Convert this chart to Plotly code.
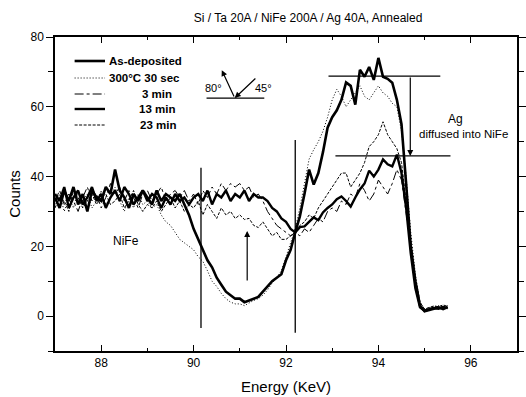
import plotly.graph_objects as go

# Energy grid (keV), 0.1 keV steps from 87.0 to 95.5
energy = [round(87.0 + 0.1 * i, 1) for i in range(86)]

as_deposited = [
    34, 31, 36, 33, 37, 32, 35, 30, 36, 34,
    33, 37, 35, 42, 36, 34, 31, 35, 33, 36,
    34, 32, 36, 33, 35, 34, 33, 35, 32, 29,
    25, 22, 19, 16, 14, 11, 9, 7, 6, 5,
    5, 4, 4.5, 5, 5.5, 7, 8.5, 10, 11, 12,
    16, 19, 24, 28.6, 35, 42, 37.7, 41, 47, 54,
    57, 59, 62, 67, 66, 60.6, 70.6, 68.6, 71.4, 67.7,
    74, 68.6, 68, 66.9, 62, 55, 38, 20, 10, 3,
    1.4, 1.8, 2.2, 2.5, 2.0, 2.6,
]

ann_30s = [
    32, 35, 30, 34, 31, 36, 33, 35, 31, 33,
    36, 32, 34, 37, 33, 30, 34, 31, 35, 32,
    33, 31, 32, 29, 27, 26, 24, 22, 21, 20,
    19, 17, 15.7, 13, 10, 8.5, 6.5, 5, 4, 3.5,
    3.5, 3, 3.8, 4.5, 5, 6, 7.5, 9.5, 11, 13,
    17, 21, 25, 31, 38, 45, 47.7, 50, 53, 57,
    62, 65, 63, 60, 62, 64, 66, 63, 62, 64,
    66, 64, 63, 61, 60, 53, 40, 24, 12, 4,
    2, 2.4, 2.8, 3, 2.6, 3,
]

ann_3min = [
    33, 36, 32, 35, 33, 30, 34, 37, 33, 35,
    31, 34, 38, 35, 37, 33, 36, 34, 31, 35,
    36, 33, 35, 37, 33, 35, 36, 34, 36, 33,
    35, 32, 36, 34, 37, 35, 38, 36, 38, 37,
    38, 36, 37, 34, 35, 33, 30, 28, 26, 25,
    24, 23, 24, 23, 25, 24, 26, 28, 27, 30,
    31, 30, 33, 32, 35, 34, 38, 36, 33, 35,
    39, 37, 35, 38, 42, 39, 30, 20, 9, 3,
    1.8, 2.2, 2.5, 2.4, 2.8, 2.5,
]

ann_13min = [
    35, 33, 37, 31, 34, 36, 32, 34, 37, 33,
    35, 31, 34, 36, 33, 37, 35, 32, 34, 36,
    33, 35, 34, 31, 34, 32, 35, 33, 34, 32,
    34, 35, 33, 36, 32, 35, 34, 36, 33, 35,
    34, 36, 33, 35, 34, 34, 33, 31, 30, 28,
    27, 25, 24, 25.5, 25.7, 27, 28.3, 27.5, 29.7, 31,
    32, 33.5, 34.3, 33, 31.4, 34, 36.3, 38, 41.7, 40,
    42, 44.9, 43.5, 42.9, 46.3, 41, 31, 18, 8, 2.5,
    1.5, 2, 2.3, 2.1, 2.6, 2.3,
]

ann_23min = [
    31, 34, 33, 30, 36, 34, 31, 33, 35, 32,
    34, 35, 32, 33, 35, 31, 33, 36, 32, 30,
    32, 31, 33, 30, 32, 34, 31, 33, 30, 32,
    31, 33, 29, 32, 30, 28, 31, 29, 30, 28,
    29, 27.7, 28, 26, 25.4, 27, 25, 23, 24, 22,
    22, 23, 24, 26, 27, 29, 28, 31, 33, 35,
    37, 39, 41, 41, 37, 39, 41, 44, 48.6, 50,
    52, 55.7, 52, 50, 48, 44, 33, 22, 11, 4,
    2, 2.5, 2.9, 2.7, 3.2, 2.8,
]

series_names = ["As-deposited", "300°C 30 sec", "3 min", "13 min", "23 min"]
series_values = [as_deposited, ann_30s, ann_3min, ann_13min, ann_23min]
series_width = [2.6, 1.0, 1.0, 2.4, 1.0]
series_dash = ["solid", "1px,2px", "dashdot", "solid", "3px,1.5px"]

x_ticks = [88, 90, 92, 94, 96]
y_ticks = [0, 20, 40, 60, 80]

FONT = "Liberation Sans, Arial, sans-serif"
W, H, L, R, T, B = 526, 397, 55, 0, 37, 46
PW, PH = W - L - R, H - T - B


def px_x(p):
    return (p - L) / PW


def px_y(p):
    return 1 - (p - T) / PH


fig = go.Figure()
for name, vals, w, d in zip(series_names, series_values, series_width, series_dash):
    fig.add_trace(go.Scatter(
        x=energy, y=vals, mode="lines", name=name, showlegend=False,
        line=dict(color="black", width=w, dash=d),
    ))

line_style = dict(color="black", width=1.3)
shapes = [
    dict(type="line", xref="x", yref="y", x0=90.16, x1=90.16, y0=42.5, y1=-3.4, line=line_style),
    dict(type="line", xref="x", yref="y", x0=92.20, x1=92.20, y0=50.5, y1=-4.8, line=line_style),
    dict(type="line", xref="x", yref="y", x0=92.92, x1=95.34, y0=68.8, y1=68.8, line=line_style),
    dict(type="line", xref="x", yref="y", x0=93.07, x1=95.56, y0=45.9, y1=45.9, line=line_style),
    dict(type="line", xref="x", yref="y", x0=90.28, x1=91.53, y0=62.5, y1=62.5, line=line_style),
]

annotations = [
    dict(x=91.16, y=24.4, ax=91.16, ay=9.8, xref="x", yref="y", axref="x", ayref="y",
         text="", showarrow=True, arrowhead=2, arrowsize=1, arrowwidth=1.2, arrowcolor="black"),
    dict(x=94.69, y=45.9, ax=94.69, ay=68.8, xref="x", yref="y", axref="x", ayref="y",
         text="", showarrow=True, arrowhead=2, arrowsize=1, arrowwidth=1.2, arrowcolor="black"),
    dict(x=90.61, y=70.5, ax=90.89, ay=62.5, xref="x", yref="y", axref="x", ayref="y",
         text="", showarrow=True, arrowhead=2, arrowsize=1, arrowwidth=1.2, arrowcolor="black"),
    dict(x=90.89, y=62.5, ax=91.37, ay=68.5, xref="x", yref="y", axref="x", ayref="y",
         text="", showarrow=True, arrowhead=2, arrowsize=1, arrowwidth=1.2, arrowcolor="black"),
    dict(x=90.44, y=65.4, xref="x", yref="y", text="80°", showarrow=False,
         font=dict(family=FONT, size=11, color="black")),
    dict(x=91.52, y=65.4, xref="x", yref="y", text="45°", showarrow=False,
         font=dict(family=FONT, size=11, color="black")),
    dict(x=88.53, y=21.5, xref="x", yref="y", text="NiFe", showarrow=False,
         font=dict(family=FONT, size=12, color="black")),
    dict(x=95.66, y=56.5, xref="x", yref="y", text="Ag", showarrow=False,
         font=dict(family=FONT, size=12, color="black")),
    dict(x=95.85, y=52.2, xref="x", yref="y", text="diffused into NiFe", showarrow=False,
         font=dict(family=FONT, size=11.5, color="black")),
]

# Legend drawn by hand (compact row spacing as in the original figure)
legend_rows = [61, 78, 94, 109, 125]
legend_text_x = [108, 108, 159, 159, 160]
legend_anchor = ["left", "left", "center", "center", "center"]
for name, w, d, ry, tx, anc in zip(series_names, series_width, series_dash,
                                   legend_rows, legend_text_x, legend_anchor):
    shapes.append(dict(type="line", xref="paper", yref="paper",
                       x0=px_x(75), x1=px_x(106), y0=px_y(ry), y1=px_y(ry),
                       line=dict(color="black", width=w, dash=d)))
    annotations.append(dict(x=px_x(tx), y=px_y(ry), xref="paper", yref="paper",
                            xanchor=anc, yanchor="middle", showarrow=False,
                            text="<b>%s</b>" % name,
                            font=dict(family=FONT, size=11.5, color="black")))

axis_common = dict(
    showline=True, linecolor="black", linewidth=1.5, mirror="ticks",
    showgrid=False, zeroline=False, tickcolor="black", tickwidth=1.3,
    tickfont=dict(family=FONT, size=12, color="black"),
)

fig.update_layout(
    width=W, height=H,
    margin=dict(l=L, r=R, t=T, b=B),
    paper_bgcolor="white", plot_bgcolor="white",
    showlegend=False,
    title=dict(
        text="Si / Ta 20A / NiFe 200A / Ag 40A, Annealed",
        x=px_x(313), xref="paper", xanchor="center",
        y=1 - 18 / H, yref="container", yanchor="middle",
        font=dict(family=FONT, size=12, color="black"),
    ),
    xaxis=dict(
        range=[87, 97], tickvals=x_ticks, ticks="inside", ticklen=6,
        minor=dict(dtick=1, tick0=87, ticks="inside", ticklen=3, tickcolor="black"),
        title=dict(text="Energy (KeV)", font=dict(family=FONT, size=15, color="black"), standoff=12),
        **axis_common,
    ),
    yaxis=dict(
        range=[-10, 80], tickvals=y_ticks, ticks="outside", ticklen=7,
        minor=dict(dtick=10, tick0=0, ticks="outside", ticklen=5, tickcolor="black"),
        title=dict(text="Counts", font=dict(family=FONT, size=15, color="black"), standoff=6),
        **axis_common,
    ),
    shapes=shapes,
    annotations=annotations,
)

fig.write_html("out.html")
